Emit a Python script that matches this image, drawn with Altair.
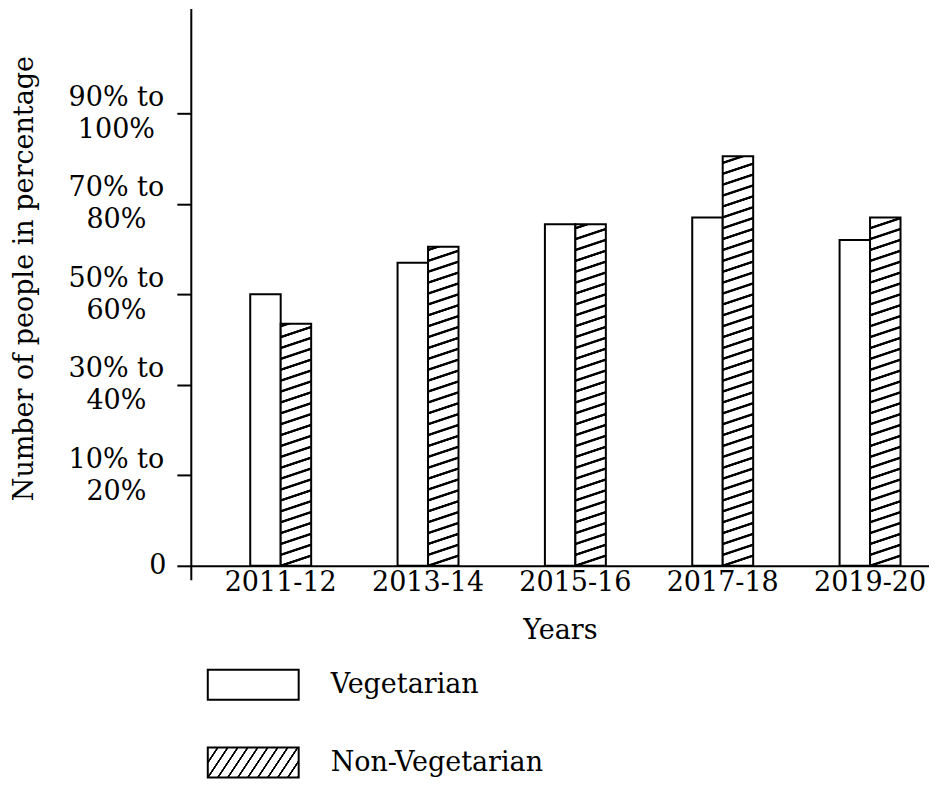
import altair as alt
import pandas as pd

# ---------------- data ----------------
years = ["2011-12", "2013-14", "2015-16", "2017-18", "2019-20"]
series = ["Vegetarian", "Non-Vegetarian"]
veg_values = [60, 67, 75.5, 77, 72]
nonveg_values = [53.5, 70.5, 75.5, 90.5, 77]
tick_values = [0, 20, 40, 60, 80, 100]
tick_labels = [["0"], ["10% to", "20%"], ["30% to", "40%"], ["50% to", "60%"],
               ["70% to", "80%"], ["90% to", "100%"]]

rows = []
for y, v in zip(years, veg_values):
    rows.append({"year": y, "series": "Vegetarian", "value": v})
for y, v in zip(years, nonveg_values):
    rows.append({"year": y, "series": "Non-Vegetarian", "value": v})
df = pd.DataFrame(rows)

FONT = "DejaVu Serif"
FS = 27
W, H = 739, 572
Y_DOM = [-3.1, 123.2]
PXU = H / (Y_DOM[1] - Y_DOM[0])
BAR_W = 30.5


def hatch(w, h, m, period, thick, aa=0.7):
    """diagonal stripes (lines m*x + y = c in pixel space) as a bbox gradient"""
    dx = m * w / h
    L = 1.02 * (m * w + h)
    a = L / (h * (1 + dx * dx))
    phase = h % period
    stops = [(0.0, "white")]
    S = phase - period
    while S - thick / 2 - aa < L:
        for s, c in [(S - thick / 2 - aa, "white"), (S - thick / 2, "black"),
                     (S + thick / 2, "black"), (S + thick / 2 + aa, "white")]:
            t = min(max(s / L, 0.0), 1.0)
            stops.append((t, c))
        S += period
    stops.append((1.0, "white"))
    out = []
    last = 0.0
    for t, c in stops:
        t = max(t, last)
        last = t
        out.append(alt.GradientStop(offset=round(t, 5), color=c))
    return alt.LinearGradient(gradient="linear", stops=out,
                              x1=0, y1=0, x2=a * dx, y2=a)


# label expression for two-line y labels
expr = "'0'"
for v, lab in reversed(list(zip(tick_values, tick_labels))):
    if v == 0:
        continue
    arr = "[" + ",".join("'" + s + "'" for s in lab) + "]"
    expr = f"datum.value == {v} ? {arr} : ({expr})"

is_zero = "datum.value === 0"

base = alt.Chart(df).encode(
    x=alt.X("year:N", sort=years, title="Years",
            scale=alt.Scale(paddingInner=0.5864, paddingOuter=0.2983, align=0.676),
            axis=alt.Axis(labelAngle=0, ticks=False, domainColor="black", domainWidth=2,
                          labelColor="black", labelFont=FONT, labelFontSize=FS,
                          labelPadding=4, labelBaseline="top", offset=-14,
                          titleFont=FONT, titleFontSize=FS, titleFontWeight="normal",
                          titleColor="black", titlePadding=22)),
    xOffset=alt.XOffset("series:N", sort=series, scale=alt.Scale(paddingInner=0, paddingOuter=0)),
    y=alt.Y("value:Q", title="Number of people in percentage",
            scale=alt.Scale(domain=Y_DOM, nice=False, zero=False),
            axis=alt.Axis(values=tick_values, labelExpr=expr, grid=False,
                          domainColor="black", domainWidth=2,
                          tickColor="black", tickWidth=2, tickSize=14,
                          labelColor="black", labelFont=FONT, labelFontSize=FS,
                          labelLineHeight=32,
                          labelAlign={"condition": {"test": is_zero, "value": "right"}, "value": "center"},
                          labelPadding={"condition": {"test": is_zero, "value": 11}, "value": 61},
                          labelOffset={"condition": {"test": is_zero, "value": 0}, "value": -16},
                          labelBaseline="middle",
                          titleFont=FONT, titleFontSize=FS, titleFontWeight="normal",
                          titleColor="black", titleX=-158, titleY=270,
                          titleAngle=-90, titleBaseline="alphabetic", titleAlign="center")),
)

layers = [base.transform_filter(alt.datum.series == "Vegetarian").mark_bar(
    fill="white", stroke="black", strokeWidth=2, opacity=1)]
for yr, v in zip(years, nonveg_values):
    g = hatch(BAR_W, v * PXU, 1 / 3, 10.9, 1.9)
    layers.append(base.transform_filter(
        (alt.datum.series == "Non-Vegetarian") & (alt.datum.year == yr)
    ).mark_bar(fill=g, stroke="black", strokeWidth=2, opacity=1))

main = alt.layer(*layers).properties(width=W, height=H)

# ---------------- legend ----------------
leg_df = pd.DataFrame({"series": series})
lbase = alt.Chart(leg_df).encode(
    y=alt.Y("series:N", sort=series, axis=None,
            scale=alt.Scale(paddingInner=0.615, paddingOuter=0.1537, align=1)))
leg_veg = lbase.transform_filter(alt.datum.series == "Vegetarian").mark_rect(
    fill="white", stroke="black", strokeWidth=2).encode(x=alt.value(17), x2=alt.value(108))
leg_non = lbase.transform_filter(alt.datum.series == "Non-Vegetarian").mark_rect(
    fill=hatch(91, 30, 1.5, 15, 2.4), stroke="black", strokeWidth=2).encode(
    x=alt.value(17), x2=alt.value(108))
leg_txt = lbase.mark_text(align="left", baseline="middle", font=FONT, fontSize=FS,
                          color="black").encode(x=alt.value(140), text="series:N")
legend = alt.layer(leg_veg, leg_non, leg_txt).properties(width=W, height=132)

chart = alt.vconcat(main, legend, spacing=2).properties(
    padding={"left": 2, "top": 0, "right": 0, "bottom": 0}
).configure(font=FONT).configure_view(stroke=None)

chart.save("out.html", embed_options={"renderer": "svg", "actions": False})
